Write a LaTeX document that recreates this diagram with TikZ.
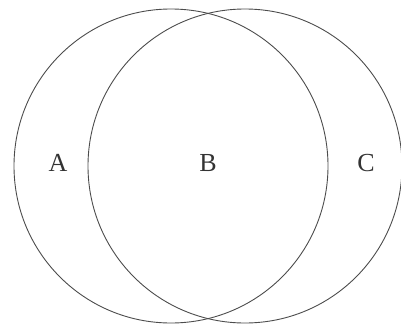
\documentclass[tikz,border=0pt]{standalone}
\usepackage{fontspec}
\setmainfont{Liberation Serif}
\usetikzlibrary{positioning}

\begin{document}
\begin{tikzpicture}[
  x=1pt,y=-1pt,
  setcircle/.style={circle,draw=black!70,line width=0.9pt,minimum size=314pt,inner sep=0pt},
  setlabel/.style={font=\fontsize{26}{26}\selectfont,text=black!80,inner sep=0pt}
]
\useasboundingbox (0,0) rectangle (401,324);
\node[setcircle] (leftset) at (171,166) {};
\node[setcircle] (rightset) at (245,166) {};
\node[setlabel] (lblA) at (58,163) {A};
\node[setlabel] (lblB) at (208,163) {B};
\node[setlabel] (lblC) at (366,163) {C};
\end{tikzpicture}
\end{document}
